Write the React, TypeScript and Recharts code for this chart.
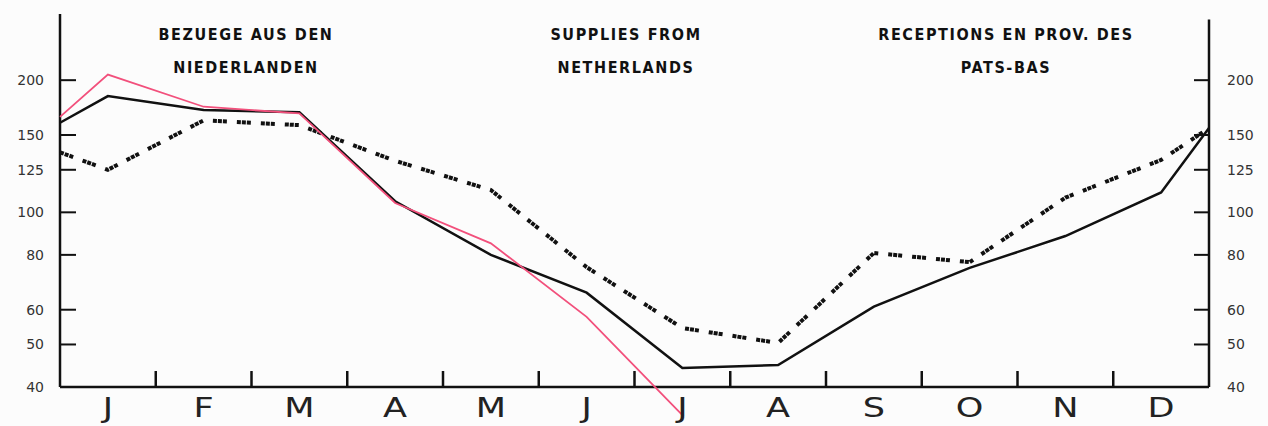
import { LineChart, Line, XAxis, YAxis, ReferenceLine } from "recharts";

// months of the year, labels sit in the middle of each month
const MONTHS = ["J", "F", "M", "A", "M", "J", "J", "A", "S", "O", "N", "D"];
const MONTH_TICKS = [0.5, 1.5, 2.5, 3.5, 4.5, 5.5, 6.5, 7.5, 8.5, 9.5, 10.5, 11.5];
const MONTH_BOUNDS = [1, 2, 3, 4, 5, 6, 7, 8, 9, 10, 11];

// points: start of year, each month, end of year
const POINT_X = [0, 0.5, 1.5, 2.5, 3.5, 4.5, 5.5, 6.5, 7.5, 8.5, 9.5, 10.5, 11.5, 12];
const SOLID = [160, 184, 171, 169, 106, 80, 65.6, 44.2, 44.9, 61, 74.7, 88.3, 111, 155.6];
const DOTTED = [137, 125, 162, 158, 131, 112.4, 75, 54.5, 50.4, 80.8, 77, 108, 131.6, 155.6];
const PINK = [165, 206, 174, 168, 105, 85, 57.8, 34.5, null, null, null, null, null, null];

const Y_TICKS = [40, 50, 60, 80, 100, 125, 150, 200];

const TITLES = [
  { lines: ["BEZUEGE AUS DEN", "NIEDERLANDEN"], cx: 246 },
  { lines: ["SUPPLIES FROM", "NETHERLANDS"], cx: 626 },
  { lines: ["RECEPTIONS EN PROV. DES", "PATS-BAS"], cx: 1006 },
];

const data = POINT_X.map((x, i) => ({
  x,
  solid: SOLID[i],
  dotted: DOTTED[i],
  pink: PINK[i],
}));

const tickFont = '"DejaVu Sans", sans-serif';

function MonthTick(props: any) {
  const { x, y, payload } = props;
  const i = MONTH_TICKS.indexOf(payload.value);
  return (
    <text
      transform={`translate(${x} ${y - 1}) scale(1.35 1)`}
      textAnchor="middle"
      fontSize={26}
      fontFamily={tickFont}
      fill="#222"
    >
      {MONTHS[i]}
    </text>
  );
}

function LeftTick(props: any) {
  const { x, y, payload } = props;
  return (
    <g>
      <line x1={x} x2={x + 16} y1={y} y2={y} stroke="#111" strokeWidth={2} />
      <text x={x - 16} y={y + 5} textAnchor="end" fontSize={14} fontFamily={tickFont} fill="#333">
        {payload.value}
      </text>
    </g>
  );
}

function RightTick(props: any) {
  const { x, y, payload } = props;
  return (
    <g>
      <line x1={x - 15} x2={x} y1={y} y2={y} stroke="#111" strokeWidth={2} />
      <text x={x + 18} y={y + 5} textAnchor="start" fontSize={14} fontFamily={tickFont} fill="#333">
        {payload.value}
      </text>
    </g>
  );
}

export default function App() {
  return (
    <div style={{ position: "fixed", left: 0, top: 0, width: 1268, height: 426, background: "#fcfcfc" }}>
      {TITLES.map((t) => (
        <div
          key={t.cx}
          style={{
            position: "absolute",
            left: t.cx - 200,
            width: 400,
            top: 18,
            textAlign: "center",
            fontFamily: '"DejaVu Sans Condensed", "DejaVu Sans", sans-serif',
            fontWeight: "bold",
            fontSize: 16,
            lineHeight: "33px",
            letterSpacing: 1.6,
            color: "#111",
          }}
        >
          {t.lines.map((l) => (
            <div key={l}>{l}</div>
          ))}
        </div>
      ))}
      <LineChart width={1268} height={426} data={data} margin={{ top: 14, right: 0, bottom: 0, left: 0 }}>
        <XAxis
          type="number"
          dataKey="x"
          domain={[0, 12]}
          ticks={MONTH_TICKS}
          interval={0}
          axisLine={false}
          tickLine={false}
          tickSize={0}
          tickMargin={0}
          height={8}
          tick={<MonthTick />}
        />
        <YAxis
          yAxisId="left"
          scale="log"
          domain={[34, 283]}
          allowDataOverflow
          ticks={Y_TICKS}
          interval={0}
          axisLine={false}
          tickLine={false}
          tickSize={0}
          tickMargin={0}
          width={60}
          tick={<LeftTick />}
        />
        <YAxis
          yAxisId="right"
          orientation="right"
          scale="log"
          domain={[34, 283]}
          allowDataOverflow
          ticks={Y_TICKS}
          interval={0}
          axisLine={false}
          tickLine={false}
          tickSize={0}
          tickMargin={0}
          width={59}
          tick={<RightTick />}
        />
        <ReferenceLine yAxisId="left" y={40} stroke="#111" strokeWidth={2.5} />
        <ReferenceLine yAxisId="left" segment={[{ x: 0, y: 40 }, { x: 0, y: 283 }]} stroke="#111" strokeWidth={2.5} />
        <ReferenceLine yAxisId="left" segment={[{ x: 12, y: 40 }, { x: 12, y: 275 }]} stroke="#111" strokeWidth={2.5} />
        {MONTH_BOUNDS.map((b) => (
          <ReferenceLine
            key={b}
            yAxisId="left"
            segment={[{ x: b, y: 40 }, { x: b, y: 43.5 }]}
            stroke="#111"
            strokeWidth={2.5}
          />
        ))}
        <Line
          yAxisId="left"
          type="linear"
          dataKey="dotted"
          stroke="#111"
          strokeWidth={4}
          strokeDasharray="4 1 4 1 4 10"
          dot={false}
          isAnimationActive={false}
        />
        <Line
          yAxisId="left"
          type="linear"
          dataKey="solid"
          stroke="#111"
          strokeWidth={2.5}
          dot={false}
          isAnimationActive={false}
        />
        <Line
          yAxisId="left"
          type="linear"
          dataKey="pink"
          stroke="#f2507c"
          strokeWidth={1.8}
          dot={false}
          isAnimationActive={false}
        />
      </LineChart>
    </div>
  );
}
